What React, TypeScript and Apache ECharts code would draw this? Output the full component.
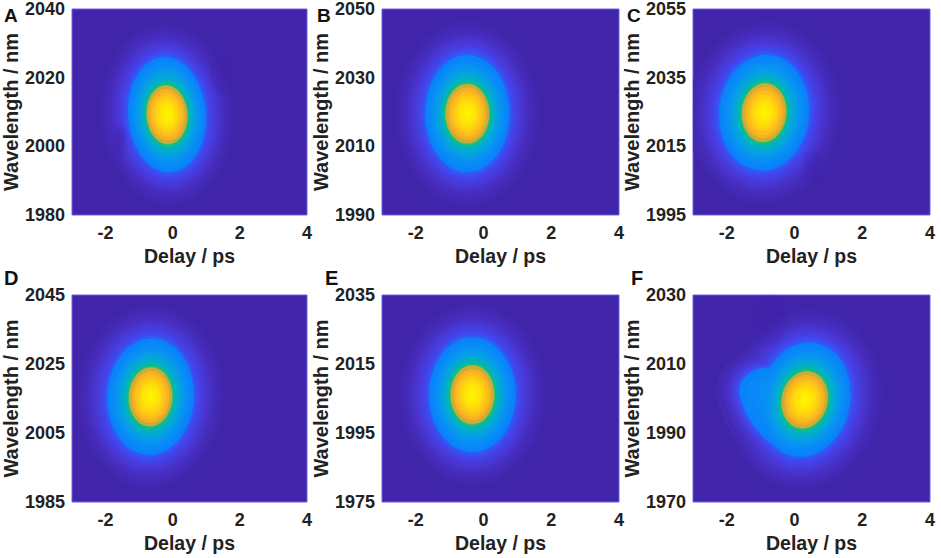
import { useEffect, useRef } from "react";
import * as echarts from "echarts";

// six pump-probe maps, each drawn as nested contours
const panelLetters = ["A", "B", "C", "D", "E", "F"];
const wavelengthMin = [1980, 1990, 1995, 1985, 1975, 1970];
const wavelengthMax = [2040, 2050, 2055, 2045, 2035, 2030];
const wavelengthTicks = [
  [1980, 2000, 2020, 2040],
  [1990, 2010, 2030, 2050],
  [1995, 2015, 2035, 2055],
  [1985, 2005, 2025, 2045],
  [1975, 1995, 2015, 2035],
  [1970, 1990, 2010, 2030],
];
const delayTicks = [-2, 0, 2, 4];

// contour levels, normalised signal, outermost first
const signal = [
  0.01, 0.025, 0.04, 0.055, 0.07, 0.09, 0.11, 0.13, 0.15, 0.17, 0.19, 0.21, 0.23, 0.25, 0.3, 0.35, 0.4, 0.45, 0.5, 0.55, 0.6,
  0.65, 0.7, 0.74, 0.78, 0.82, 0.86, 0.9, 0.93, 0.96, 0.98, 1,
];

const centreDelay = [-0.17, -0.48, -0.9, -0.66, -0.33, 0.3];
const centreWavelength = [2009.2, 2019.5, 2024.8, 2015.5, 2006.1, 1999.6];
const tilt = [4, 0, -5, -3, 0, -12];

const halfDelayA = [1.98, 1.86, 1.77, 1.69, 1.62, 1.55, 1.5, 1.44, 1.38, 1.33, 1.29, 1.24, 1.21, 1.17, 1.15, 1.07, 1, 0.92, 0.84, 0.78, 0.71, 0.67, 0.63, 0.62, 0.6, 0.53, 0.46, 0.38, 0.31, 0.24, 0.16, 0.07];
const halfDelayB = [2.13, 2.01, 1.91, 1.82, 1.75, 1.67, 1.61, 1.55, 1.49, 1.44, 1.39, 1.34, 1.3, 1.26, 1.24, 1.16, 1.07, 0.99, 0.9, 0.83, 0.76, 0.71, 0.68, 0.66, 0.64, 0.56, 0.49, 0.41, 0.33, 0.26, 0.17, 0.08];
const halfDelayC = [2.27, 2.14, 2.03, 1.94, 1.86, 1.78, 1.72, 1.65, 1.58, 1.53, 1.48, 1.43, 1.39, 1.35, 1.32, 1.23, 1.13, 1.04, 0.94, 0.86, 0.78, 0.73, 0.69, 0.67, 0.65, 0.57, 0.49, 0.42, 0.34, 0.26, 0.17, 0.08];
const halfDelayD = [2.2, 2.07, 1.97, 1.88, 1.8, 1.73, 1.66, 1.6, 1.54, 1.48, 1.43, 1.38, 1.34, 1.31, 1.28, 1.19, 1.1, 1.01, 0.92, 0.84, 0.77, 0.72, 0.68, 0.66, 0.64, 0.56, 0.49, 0.41, 0.33, 0.26, 0.17, 0.08];
const halfDelayE = [2.18, 2.06, 1.96, 1.87, 1.79, 1.71, 1.65, 1.59, 1.52, 1.47, 1.42, 1.37, 1.33, 1.3, 1.27, 1.18, 1.09, 1, 0.92, 0.84, 0.77, 0.72, 0.68, 0.66, 0.64, 0.56, 0.49, 0.41, 0.33, 0.26, 0.17, 0.08];
const halfDelayF = [2.29, 2.15, 2.05, 1.96, 1.88, 1.8, 1.73, 1.66, 1.6, 1.54, 1.49, 1.44, 1.4, 1.36, 1.33, 1.24, 1.15, 1.05, 0.96, 0.88, 0.8, 0.75, 0.71, 0.69, 0.67, 0.59, 0.51, 0.43, 0.35, 0.27, 0.17, 0.08];

const halfWaveA = [26.7, 25.4, 24.2, 23.2, 22.4, 21.5, 20.9, 20.2, 19.5, 19, 18.5, 18, 17.5, 17, 16.7, 15.6, 14.4, 13.3, 12.1, 11.1, 10.1, 9.5, 9, 8.7, 8.5, 7.5, 6.5, 5.4, 4.4, 3.4, 2.2, 1];
const halfWaveB = [27.2, 25.8, 24.7, 23.6, 22.8, 21.9, 21.3, 20.6, 19.9, 19.4, 18.9, 18.4, 17.9, 17.3, 17, 15.8, 14.6, 13.5, 12.3, 11.3, 10.3, 9.6, 9.1, 8.9, 8.6, 7.6, 6.5, 5.5, 4.5, 3.4, 2.2, 1];
const halfWaveC = [26.9, 25.5, 24.4, 23.4, 22.5, 21.7, 21, 20.3, 19.7, 19.2, 18.6, 18.1, 17.6, 17.1, 16.8, 15.6, 14.5, 13.3, 12.2, 11.2, 10.2, 9.5, 9, 8.7, 8.5, 7.5, 6.5, 5.4, 4.4, 3.4, 2.2, 1];
const halfWaveD = [26.9, 25.5, 24.4, 23.4, 22.5, 21.7, 21, 20.3, 19.7, 19.2, 18.6, 18.1, 17.6, 17.1, 16.8, 15.6, 14.5, 13.3, 12.2, 11.2, 10.2, 9.5, 9, 8.7, 8.5, 7.5, 6.5, 5.4, 4.4, 3.4, 2.2, 1];
const halfWaveE = [26.6, 25.2, 24.1, 23.1, 22.2, 21.4, 20.8, 20.1, 19.4, 18.9, 18.4, 17.9, 17.4, 16.9, 16.6, 15.5, 14.3, 13.2, 12.1, 11.1, 10.1, 9.4, 8.9, 8.7, 8.45, 7.4, 6.4, 5.4, 4.4, 3.4, 2.2, 1];
const halfWaveF = [26.6, 25.2, 24.1, 23.1, 22.2, 21.4, 20.8, 20.1, 19.4, 18.9, 18.4, 17.9, 17.4, 16.9, 16.6, 15.4, 14.3, 13.1, 12, 11, 10, 9.3, 8.8, 8.5, 8.3, 7.3, 6.3, 5.3, 4.3, 3.3, 2.2, 1];

const halfDelays = [halfDelayA, halfDelayB, halfDelayC, halfDelayD, halfDelayE, halfDelayF];
const halfWaves = [halfWaveA, halfWaveB, halfWaveC, halfWaveD, halfWaveE, halfWaveF];

// panel F side lobe: delay, wavelength, half delay, half wavelength, tilt, signal
const shoulderF = [
  [-0.83, 2002, 1.49, 12.8, 0, 0.025],
  [-0.73, 1995.7, 1.29, 18.5, 35, 0.025],
  [-0.83, 2002, 1.29, 11.3, 0, 0.055],
  [-0.73, 1995.7, 1.09, 17, 35, 0.055],
  [-0.83, 2002, 1.15, 10.1, 0, 0.09],
  [-0.73, 1995.7, 0.95, 15.8, 35, 0.09],
  [-0.83, 2002, 1.05, 9.1, 0, 0.13],
  [-0.73, 1995.7, 0.85, 14.8, 35, 0.13],
  [-0.83, 2002, 0.97, 8.3, 0, 0.17],
  [-0.73, 1995.7, 0.77, 14, 35, 0.17],
  [-0.83, 2002, 0.89, 7.7, 0, 0.21],
  [-0.73, 1995.7, 0.69, 13.4, 35, 0.21],
  [-0.83, 2002, 0.82, 7.1, 0, 0.25],
  [-0.73, 1995.7, 0.62, 12.8, 35, 0.25],
  [-0.83, 2002, 0.79, 6.8, 0, 0.3],
  [-0.73, 1995.7, 0.59, 12.5, 35, 0.3],
  [-0.72, 2001.8, 0.7, 6.2, 0, 0.33],
  [-0.64, 1996, 0.54, 11.4, 35, 0.33],
  [-0.6, 2001.4, 0.62, 5.6, 0, 0.36],
  [-0.52, 1996.5, 0.48, 10.4, 35, 0.36],
  [-0.45, 2001, 0.55, 5, 0, 0.39],
  [-0.4, 1997, 0.42, 9.4, 35, 0.39],
];

// faint dark smudges: panel, delay, wavelength, half delay, half wavelength
const dips = [
  [0, -1.57, 2001.8, 0.22, 5],
  [0, -1.57, 2001.8, 0.15, 3.5],
  [0, -1.57, 2001.8, 0.09, 2],
  [0, 1.45, 2021, 0.35, 6],
  [2, 0.55, 2009, 0.32, 5],
  [2, 0.55, 2009, 0.2, 3],
  [5, -0.73, 2023, 0.5, 8],
  [5, -0.73, 2023, 0.3, 5],
];

const ramp = ["#4024aa", "#4a36d2", "#4048f0", "#0a82fa", "#0890f4", "#04a4e0", "#02b4b8", "#12c078", "#f8a828", "#ffcc14", "#fff400"];
const gridLeft = [70, 382, 693, 70, 382, 693];
const gridTop = [9, 9, 9, 295, 295, 295];
const letterLeft = [4, 317, 627, 4, 325, 631];
const letterTop = [6, 6, 6, 268, 268, 268];
const letterSize = [19, 19, 19, 20, 20, 20];
const textFont = "'Liberation Sans', Arial, sans-serif";

function drawEllipse(_: unknown, api: any) {
  const c = api.coord([api.value(0), api.value(1)]);
  const s = api.size([api.value(2), api.value(3)], [api.value(0), api.value(1)]);
  return {
    type: "ellipse",
    x: c[0],
    y: c[1],
    rotation: (api.value(4) * Math.PI) / 180,
    shape: { cx: 0, cy: 0, rx: s[0], ry: s[1] },
    style: { fill: api.visual("color") },
  };
}

function drawDip(_: unknown, api: any) {
  const c = api.coord([api.value(0), api.value(1)]);
  const s = api.size([api.value(2), api.value(3)], [api.value(0), api.value(1)]);
  return {
    type: "ellipse",
    x: c[0],
    y: c[1],
    shape: { cx: 0, cy: 0, rx: s[0], ry: s[1] },
    style: { fill: ramp[0], opacity: 0.18 },
  };
}

function panelRows(i: number) {
  const rows = signal.map((v, k) => [
    centreDelay[i],
    centreWavelength[i],
    halfDelays[i][k],
    halfWaves[i][k],
    tilt[i],
    v,
  ]);
  if (i === 5) rows.push(...shoulderF);
  return rows.sort((a, b) => a[5] - b[5]);
}

export default function App() {
  const ref = useRef<HTMLDivElement>(null);

  useEffect(() => {
    if (!ref.current) return;
    const chart = echarts.init(ref.current, undefined, { renderer: "svg" });
    const label = { fontFamily: textFont, fontWeight: "bold" as const, fontSize: 18, color: "#222" };
    const axisName = { fontFamily: textFont, fontWeight: "bold" as const, color: "#222" };

    chart.setOption({
      animation: false,
      backgroundColor: "#fff",
      title: panelLetters.map((t, i) => ({
        text: t,
        left: letterLeft[i],
        top: letterTop[i],
        padding: 0,
        textStyle: { fontFamily: textFont, fontWeight: "bold", fontSize: letterSize[i], color: "#111" },
      })),
      grid: panelLetters.map((_, i) => ({
        left: gridLeft[i],
        top: gridTop[i],
        width: 237,
        height: i < 3 ? 206 : 207,
        show: true,
        backgroundColor: ramp[0],
        borderColor: "#6f5fe0",
        borderWidth: 1,
      })),
      xAxis: panelLetters.map((_, i) => ({
        type: "value",
        gridIndex: i,
        min: -3,
        max: 4,
        name: "Delay / ps",
        nameLocation: "middle",
        nameGap: 31,
        nameTextStyle: { ...axisName, fontSize: 19.5 },
        axisLine: { show: false },
        axisTick: { show: false },
        splitLine: { show: false },
        axisLabel: { ...label, margin: 9, customValues: delayTicks },
      })),
      yAxis: panelLetters.map((_, i) => ({
        type: "value",
        gridIndex: i,
        min: wavelengthMin[i],
        max: wavelengthMax[i],
        name: "Wavelength / nm",
        nameLocation: "middle",
        nameGap: 51,
        nameTextStyle: { ...axisName, fontSize: 20 },
        axisLine: { show: false },
        axisTick: { show: false },
        splitLine: { show: false },
        axisLabel: { ...label, margin: 7, customValues: wavelengthTicks[i], formatter: (v: number) => String(v) },
      })),
      visualMap: {
        show: false,
        type: "continuous",
        min: 0,
        max: 1,
        dimension: 5,
        seriesIndex: [0, 1, 2, 3, 4, 5],
        inRange: { color: ramp },
      },
      series: [
        ...panelLetters.map((_, i) => ({
          type: "custom",
          xAxisIndex: i,
          yAxisIndex: i,
          clip: true,
          silent: true,
          renderItem: drawEllipse,
          encode: { x: 0, y: 1 },
          data: panelRows(i),
        })),
        ...panelLetters.map((_, i) => ({
          type: "custom",
          xAxisIndex: i,
          yAxisIndex: i,
          clip: true,
          silent: true,
          z: 3,
          renderItem: drawDip,
          encode: { x: 0, y: 1 },
          data: dips.filter((d) => d[0] === i).map((d) => d.slice(1)),
        })),
      ],
    });

    return () => {
      chart.dispose();
    };
  }, []);

  return <div ref={ref} style={{ position: "absolute", left: 0, top: 0, width: 941, height: 558 }} />;
}
